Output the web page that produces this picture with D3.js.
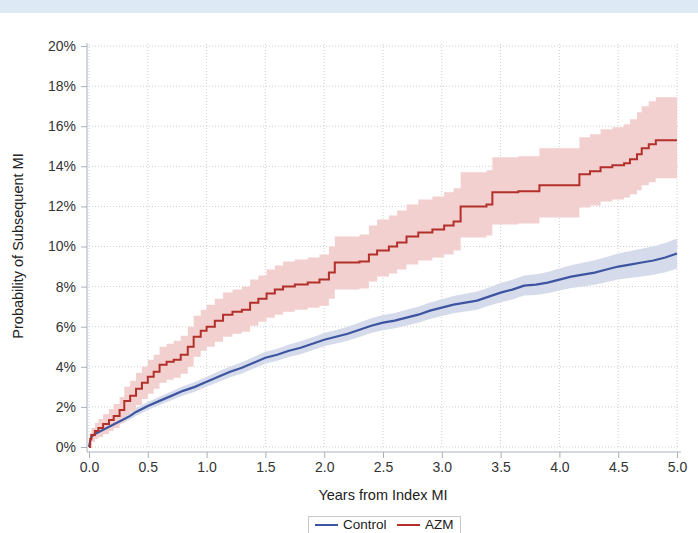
<!DOCTYPE html>
<html>
<head>
<meta charset="utf-8">
<script src="https://cdn.jsdelivr.net/npm/d3@7"></script>
<style>
  body { margin: 0; background: #fff; }
  text { font-family: 'Liberation Sans', Arial, sans-serif; }
</style>
</head>
<body>
<div id="chart"></div>
<script>
// cumulative incidence (%)
const controlTime = [0, 0.01, 0.02, 0.05, 0.1, 0.15, 0.2, 0.25, 0.3, 0.35, 0.4, 0.45, 0.5, 0.6, 0.7, 0.8, 0.9,
  1.0, 1.1, 1.2, 1.3, 1.4, 1.5, 1.6, 1.7, 1.8, 1.9, 2.0, 2.1, 2.2, 2.3, 2.4, 2.5, 2.6, 2.7, 2.8, 2.9,
  3.0, 3.1, 3.2, 3.3, 3.4, 3.5, 3.6, 3.7, 3.8, 3.9, 4.0, 4.1, 4.2, 4.3, 4.4, 4.5, 4.6, 4.7, 4.8, 4.9, 5.0]
const controlEst = [0, 0.3, 0.5, 0.65, 0.8, 0.95, 1.1, 1.25, 1.4, 1.55, 1.75, 1.9, 2.05, 2.3, 2.55, 2.8, 3.0,
  3.25, 3.5, 3.75, 3.95, 4.2, 4.45, 4.6, 4.8, 4.95, 5.15, 5.35, 5.5, 5.65, 5.85, 6.05, 6.2, 6.3, 6.45, 6.6, 6.8,
  6.95, 7.1, 7.2, 7.3, 7.5, 7.7, 7.85, 8.05, 8.1, 8.2, 8.35, 8.5, 8.6, 8.7, 8.85, 9.0, 9.1, 9.2, 9.3, 9.45, 9.65]
const controlLow = [0, 0.22, 0.4, 0.53, 0.67, 0.81, 0.95, 1.09, 1.23, 1.37, 1.56, 1.7, 1.85, 2.09, 2.33, 2.57, 2.76,
  3.0, 3.24, 3.48, 3.67, 3.91, 4.15, 4.3, 4.49, 4.63, 4.83, 5.02, 5.16, 5.3, 5.49, 5.68, 5.82, 5.92, 6.06, 6.2, 6.39,
  6.53, 6.67, 6.76, 6.85, 7.04, 7.22, 7.36, 7.55, 7.58, 7.67, 7.8, 7.93, 8.01, 8.09, 8.22, 8.35, 8.43, 8.51, 8.59, 8.72, 8.9]
const controlHigh = [0, 0.38, 0.6, 0.77, 0.93, 1.09, 1.25, 1.41, 1.57, 1.73, 1.94, 2.1, 2.25, 2.51, 2.77, 3.03, 3.24,
  3.5, 3.76, 4.02, 4.23, 4.49, 4.75, 4.9, 5.11, 5.27, 5.47, 5.68, 5.84, 6.0, 6.21, 6.42, 6.58, 6.68, 6.84, 7.0, 7.21,
  7.37, 7.53, 7.64, 7.75, 7.96, 8.18, 8.34, 8.55, 8.62, 8.73, 8.9, 9.07, 9.19, 9.31, 9.48, 9.65, 9.77, 9.89, 10.01, 10.18, 10.4]

const azmTime = [0, 0.01, 0.02, 0.05, 0.08, 0.12, 0.17, 0.21, 0.26, 0.3, 0.35, 0.4, 0.45, 0.5, 0.55, 0.6, 0.66,
  0.72, 0.78, 0.84, 0.89, 0.95, 1.0, 1.07, 1.14, 1.22, 1.3, 1.37, 1.44, 1.51, 1.58, 1.65, 1.75, 1.86, 1.96,
  2.04, 2.09, 2.3, 2.38, 2.45, 2.55, 2.62, 2.7, 2.8, 2.92, 3.02, 3.1, 3.16, 3.38, 3.43, 3.65, 3.83,
  4.17, 4.26, 4.35, 4.45, 4.55, 4.6, 4.66, 4.7, 4.76, 4.82, 5.0]
const azmEst = [0, 0.4, 0.6, 0.8, 0.95, 1.15, 1.35, 1.55, 1.85, 2.3, 2.55, 2.9, 3.2, 3.5, 3.75, 4.1, 4.25,
  4.35, 4.6, 5.0, 5.5, 5.8, 6.0, 6.3, 6.6, 6.75, 6.85, 7.2, 7.4, 7.65, 7.85, 8.0, 8.1, 8.2, 8.35,
  8.7, 9.2, 9.25, 9.6, 9.8, 10.0, 10.2, 10.5, 10.7, 10.85, 11.05, 11.25, 12.0, 12.1, 12.7, 12.75, 13.05,
  13.6, 13.75, 13.95, 14.05, 14.15, 14.35, 14.6, 14.9, 15.1, 15.3, 15.3]
const azmLow = [0, 0.1, 0.25, 0.4, 0.5, 0.65, 0.8, 0.95, 1.2, 1.6, 1.8, 2.1, 2.4, 2.65, 2.9, 3.2, 3.35,
  3.45, 3.65, 4.0, 4.5, 4.8, 5.0, 5.25, 5.5, 5.65, 5.75, 6.05, 6.25, 6.45, 6.6, 6.75, 6.85, 6.95, 7.05,
  7.4, 7.85, 7.9, 8.25, 8.5, 8.65, 8.85, 9.1, 9.3, 9.45, 9.6, 9.8, 10.45, 10.55, 11.1, 11.15, 11.45,
  11.95, 12.05, 12.25, 12.35, 12.45, 12.6, 12.8, 13.05, 13.2, 13.4, 13.4]
const azmHigh = [0, 0.7, 0.95, 1.2, 1.4, 1.65, 1.9, 2.15, 2.5, 3.0, 3.3, 3.7, 4.0, 4.35, 4.6, 5.0, 5.15,
  5.3, 5.55, 6.0, 6.55, 6.85, 7.1, 7.4, 7.7, 7.85, 8.0, 8.35, 8.55, 8.85, 9.05, 9.25, 9.35, 9.45, 9.6,
  10.0, 10.5, 10.6, 11.05, 11.35, 11.55, 11.8, 12.1, 12.35, 12.5, 12.7, 12.9, 13.7, 13.8, 14.45, 14.5, 14.9,
  15.45, 15.6, 15.85, 15.95, 16.1, 16.35, 16.7, 17.0, 17.25, 17.45, 17.45]

const xTicks = [0, 0.5, 1.0, 1.5, 2.0, 2.5, 3.0, 3.5, 4.0, 4.5, 5.0]
const yTicks = [0, 2, 4, 6, 8, 10, 12, 14, 16, 18, 20]

const W = 698, H = 533

const svg = d3.select('#chart').append('svg')
  .attr('width', W)
  .attr('height', H)

// light blue strip at the top
svg.append('rect')
  .attr('x', 0).attr('y', 0)
  .attr('width', W).attr('height', 13)
  .attr('fill', '#dee9f6')

const x = d3.scaleLinear().domain([0, 5]).range([89, 677])
const y = d3.scaleLinear().domain([0, 20]).range([447, 46])

// dotted grid
svg.append('g').selectAll('line').data(yTicks).enter().append('line')
  .attr('x1', 89).attr('x2', 680)
  .attr('y1', d => y(d)).attr('y2', d => y(d))
  .attr('stroke', '#cfcfcf').attr('stroke-dasharray', '1,2')
svg.append('g').selectAll('line').data(xTicks).enter().append('line')
  .attr('x1', d => x(d)).attr('x2', d => x(d))
  .attr('y1', 44).attr('y2', 449)
  .attr('stroke', '#cfcfcf').attr('stroke-dasharray', '1,2')

// axes
const xAxis = svg.append('g')
  .attr('transform', 'translate(0,452)')
  .call(d3.axisBottom(x).tickValues(xTicks).tickSize(6).tickPadding(4).tickFormat(d3.format('.1f')))
const yAxis = svg.append('g')
  .attr('transform', 'translate(87,0)')
  .call(d3.axisLeft(y).tickValues(yTicks).tickSize(6).tickPadding(5).tickFormat(d => d + '%'))

xAxis.select('.domain').attr('d', 'M87,0H681')
yAxis.select('.domain').attr('d', 'M0,43V452')
svg.selectAll('.domain').attr('stroke', '#a9b1b9')
svg.selectAll('.tick line').attr('stroke', '#a9b1b9')
svg.selectAll('.tick text').attr('fill', '#333').style('font-size', '14px')
  .style('font-family', "'Liberation Sans', Arial, sans-serif")

// bands and lines
function rows(t, e, lo, hi) {
  return t.map((d, i) => ({ t: d, e: e[i], lo: lo[i], hi: hi[i] }))
}
const control = rows(controlTime, controlEst, controlLow, controlHigh)
const azm = rows(azmTime, azmEst, azmLow, azmHigh)

svg.append('path').datum(control)
  .attr('fill', '#d6dbeb')
  .attr('d', d3.area().x(d => x(d.t)).y0(d => y(d.lo)).y1(d => y(d.hi)))
svg.append('path').datum(azm)
  .attr('fill', '#f3d0d0')
  .attr('d', d3.area().curve(d3.curveStepAfter).x(d => x(d.t)).y0(d => y(d.lo)).y1(d => y(d.hi)))

svg.append('path').datum(control)
  .attr('fill', 'none').attr('stroke', '#3d55a0').attr('stroke-width', 2.2)
  .attr('d', d3.line().x(d => x(d.t)).y(d => y(d.e)))
svg.append('path').datum(azm)
  .attr('fill', 'none').attr('stroke', '#b3302a').attr('stroke-width', 2)
  .attr('d', d3.line().curve(d3.curveStepAfter).x(d => x(d.t)).y(d => y(d.e)))

// axis titles
svg.append('text')
  .attr('x', 383).attr('y', 500)
  .attr('text-anchor', 'middle')
  .attr('fill', '#222').style('font-size', '14.5px')
  .text('Years from Index MI')
svg.append('text')
  .attr('transform', 'translate(23,246) rotate(-90)')
  .attr('text-anchor', 'middle')
  .attr('fill', '#222').style('font-size', '14.5px')
  .text('Probability of Subsequent MI')

// legend
const legend = svg.append('g')
legend.append('rect')
  .attr('x', 308.5).attr('y', 516.5)
  .attr('width', 152).attr('height', 20)
  .attr('fill', '#fff').attr('stroke', '#c8c8c8')
const items = [
  { name: 'Control', color: '#3d55a0', x: 315 },
  { name: 'AZM', color: '#b3302a', x: 397 }
]
items.forEach(it => {
  legend.append('line')
    .attr('x1', it.x).attr('x2', it.x + 23)
    .attr('y1', 525).attr('y2', 525)
    .attr('stroke', it.color).attr('stroke-width', 2)
  legend.append('text')
    .attr('x', it.x + 28).attr('y', 529)
    .attr('fill', '#222').style('font-size', '13.5px')
    .text(it.name)
})
</script>
</body>
</html>
